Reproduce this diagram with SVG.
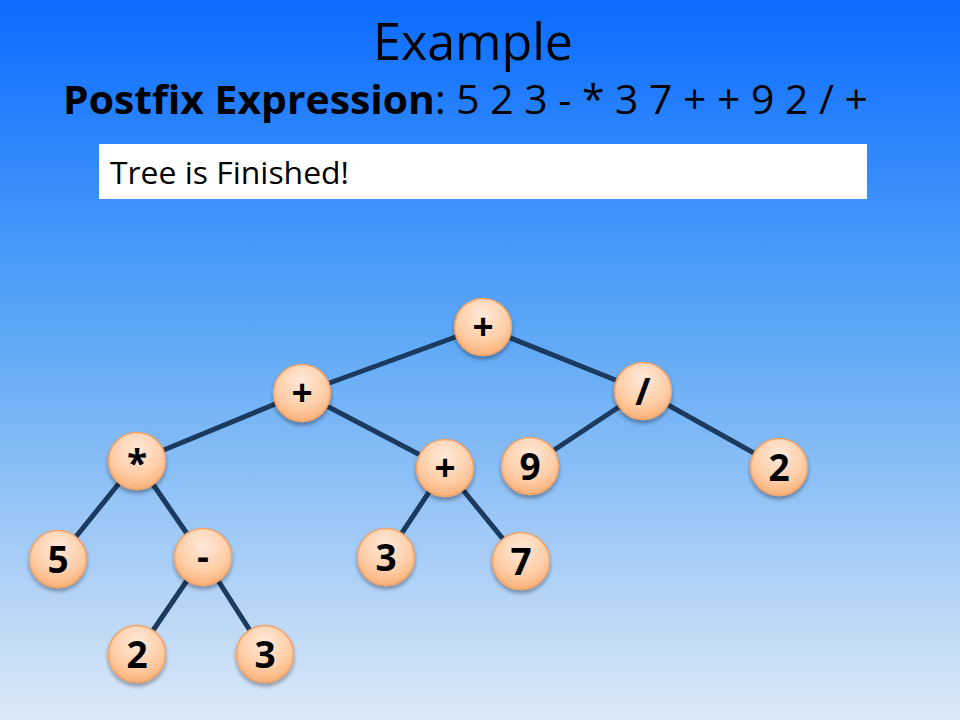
<svg xmlns="http://www.w3.org/2000/svg" width="960" height="720" viewBox="0 0 960 720">
<defs>
<linearGradient id="bg" x1="0" y1="0" x2="0" y2="1">
<stop offset="0" stop-color="#0a6cff"/>
<stop offset="0.45" stop-color="#5aa6f6"/>
<stop offset="1" stop-color="#dde9f7"/>
</linearGradient>
<radialGradient id="nf" cx="0.5" cy="0.3" r="0.75">
<stop offset="0" stop-color="#ffeadb"/>
<stop offset="0.6" stop-color="#ffcda6"/>
<stop offset="1" stop-color="#f9ab70"/>
</radialGradient>
<filter id="sh" x="-30%" y="-30%" width="160%" height="170%">
<feGaussianBlur in="SourceAlpha" stdDeviation="2"/>
<feOffset dx="0" dy="3" result="b"/>
<feComponentTransfer><feFuncA type="linear" slope="0.35"/></feComponentTransfer>
<feMerge><feMergeNode/><feMergeNode in="SourceGraphic"/></feMerge>
</filter>
</defs>
<style>
.n circle{fill:url(#nf);stroke:#f3a468;stroke-width:1.5;filter:url(#sh)}
.n text{font-family:"Open Sans","Liberation Sans",sans-serif;font-weight:bold;font-size:37px;text-anchor:middle;fill:#000}
.e line{stroke:#1b3a60;stroke-width:5}
.t{font-family:"Open Sans","Liberation Sans",sans-serif;fill:#000}
</style>
<rect x="0" y="0" width="960" height="720" fill="url(#bg)"/>
<text class="t" x="473" y="60" font-size="52" text-anchor="middle" textLength="200" lengthAdjust="spacingAndGlyphs">Example</text>
<text class="t" x="63" y="114" font-size="40" textLength="805" lengthAdjust="spacingAndGlyphs"><tspan font-weight="bold">Postfix Expression</tspan>: 5 2 3 - * 3 7 + + 9 2 / +</text>
<rect x="99" y="144" width="768" height="55" fill="#fff"/>
<text class="t" x="110" y="184" font-size="31" textLength="239" lengthAdjust="spacingAndGlyphs">Tree is Finished!</text>
<g class="e">
<line x1="483" y1="327" x2="302" y2="393"/>
<line x1="483" y1="327" x2="643" y2="391"/>
<line x1="302" y1="393" x2="137" y2="461"/>
<line x1="302" y1="393" x2="445" y2="468"/>
<line x1="643" y1="391" x2="530" y2="466"/>
<line x1="643" y1="391" x2="779" y2="467"/>
<line x1="137" y1="461" x2="58" y2="559"/>
<line x1="137" y1="461" x2="203" y2="557"/>
<line x1="445" y1="468" x2="386" y2="557"/>
<line x1="445" y1="468" x2="521" y2="561"/>
<line x1="203" y1="557" x2="137" y2="654"/>
<line x1="203" y1="557" x2="265" y2="654"/>
</g>
<g id="n1" class="n"><circle cx="483" cy="327" r="28.5"/><text x="483" y="340">+</text></g>
<g id="n2" class="n"><circle cx="302" cy="393" r="28.5"/><text x="302" y="406">+</text></g>
<g id="n3" class="n"><circle cx="643" cy="391" r="28.5"/><text x="643" y="405">/</text></g>
<g id="n4" class="n"><circle cx="137" cy="461" r="28.5"/><text x="137" y="477">*</text></g>
<g id="n5" class="n"><circle cx="445" cy="468" r="28.5"/><text x="445" y="481">+</text></g>
<g id="n6" class="n"><circle cx="530" cy="466" r="28.5"/><text x="530" y="480">9</text></g>
<g id="n7" class="n"><circle cx="779" cy="467" r="28.5"/><text x="779" y="481">2</text></g>
<g id="n8" class="n"><circle cx="58" cy="559" r="28.5"/><text x="58" y="573">5</text></g>
<g id="n9" class="n"><circle cx="203" cy="557" r="28.5"/><text x="203" y="570">-</text></g>
<g id="n10" class="n"><circle cx="386" cy="557" r="28.5"/><text x="386" y="571">3</text></g>
<g id="n11" class="n"><circle cx="521" cy="561" r="28.5"/><text x="521" y="575">7</text></g>
<g id="n12" class="n"><circle cx="137" cy="654" r="28.5"/><text x="137" y="668">2</text></g>
<g id="n13" class="n"><circle cx="265" cy="654" r="28.5"/><text x="265" y="668">3</text></g>
</svg>
